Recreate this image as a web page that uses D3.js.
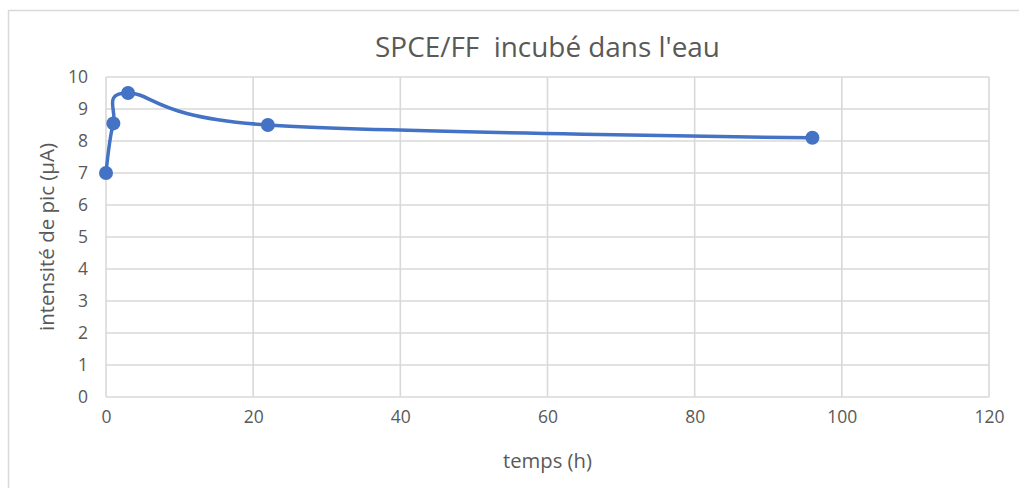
<!DOCTYPE html>
<html>
<head>
<meta charset="utf-8">
<script src="https://cdn.jsdelivr.net/npm/d3@7"></script>
<style>
  html, body { margin: 0; padding: 0; background: #fff; }
  svg { display: block; }
  text { font-family: "Open Sans", "Noto Sans", sans-serif; fill: #595959; }
</style>
</head>
<body>
<svg id="chart" width="1019" height="488"></svg>
<script>
// Peak current over incubation time
const timeHours = [0, 1, 3, 22, 96];
const peakCurrent = [7.0, 8.55, 9.5, 8.5, 8.1];
const xTicks = [0, 20, 40, 60, 80, 100, 120];
const yTicks = [0, 1, 2, 3, 4, 5, 6, 7, 8, 9, 10];
const chartTitle = "SPCE/FF\u00a0\u00a0incubé dans l'eau";
const xTitle = "temps (h)";
const yTitle = "intensité de pic (µA)";

const svg = d3.select("#chart");
const W = 1019, H = 488;
const plot = { left: 106, right: 989, top: 77, bottom: 397 };

// outer frame (left and top edges visible)
svg.append("path")
  .attr("d", `M8.5,${H} V10.5 H${W}`)
  .attr("fill", "none").attr("stroke", "#d9d9d9").attr("stroke-width", 1.5);

const x = d3.scaleLinear().domain([0, 120]).range([plot.left, plot.right]);
const y = d3.scaleLinear().domain([0, 10]).range([plot.bottom, plot.top]);

// gridlines
const grid = svg.append("g").attr("stroke", "#d9d9d9").attr("stroke-width", 1.6);
grid.selectAll("line.h").data(yTicks).join("line")
  .attr("x1", plot.left).attr("x2", plot.right)
  .attr("y1", d => y(d)).attr("y2", d => y(d));
grid.selectAll("line.v").data(xTicks).join("line")
  .attr("y1", plot.top).attr("y2", plot.bottom)
  .attr("x1", d => x(d)).attr("x2", d => x(d));

// axes (labels only, lines come from the grid)
const xAxis = svg.append("g")
  .attr("transform", `translate(0,${plot.bottom})`)
  .call(d3.axisBottom(x).tickValues(xTicks).tickSize(0).tickPadding(20));
const yAxis = svg.append("g")
  .attr("transform", `translate(${plot.left},0)`)
  .call(d3.axisLeft(y).tickValues(yTicks).tickSize(0).tickPadding(18));
[xAxis, yAxis].forEach(a => {
  a.select(".domain").remove();
  a.selectAll("text").attr("font-size", 17.5).attr("fill", "#595959")
    .attr("font-family", '"Open Sans", sans-serif');
});
xAxis.selectAll("text").attr("dy", "0.35em");

// fit a text element to a given width
function fit(sel, width) {
  sel.attr("font-size", 100);
  const w = sel.node().getComputedTextLength();
  sel.attr("font-size", 100 * width / w);
}

const title = svg.append("text")
  .attr("x", (plot.left + plot.right) / 2).attr("y", 57)
  .attr("text-anchor", "middle").text(chartTitle);
fit(title, 345);

const xt = svg.append("text")
  .attr("x", (plot.left + plot.right) / 2).attr("y", 468)
  .attr("text-anchor", "middle").text(xTitle);
fit(xt, 89);

const yt = svg.append("text")
  .attr("transform", `translate(54,${(plot.top + plot.bottom) / 2}) rotate(-90)`)
  .attr("text-anchor", "middle").text(yTitle);
fit(yt, 188);

// smoothed series line
const pts = timeHours.map((t, i) => [t, peakCurrent[i]]);
const line = d3.line()
  .x(d => x(d[0])).y(d => y(d[1]))
  .curve(d3.curveCardinal.tension(0));
svg.append("path").datum(pts)
  .attr("d", line)
  .attr("fill", "none").attr("stroke", "#4472c4")
  .attr("stroke-width", 3.5).attr("stroke-linecap", "round");

svg.append("g").selectAll("circle").data(pts).join("circle")
  .attr("cx", d => x(d[0])).attr("cy", d => y(d[1]))
  .attr("r", 7).attr("fill", "#4472c4");
</script>
</body>
</html>
